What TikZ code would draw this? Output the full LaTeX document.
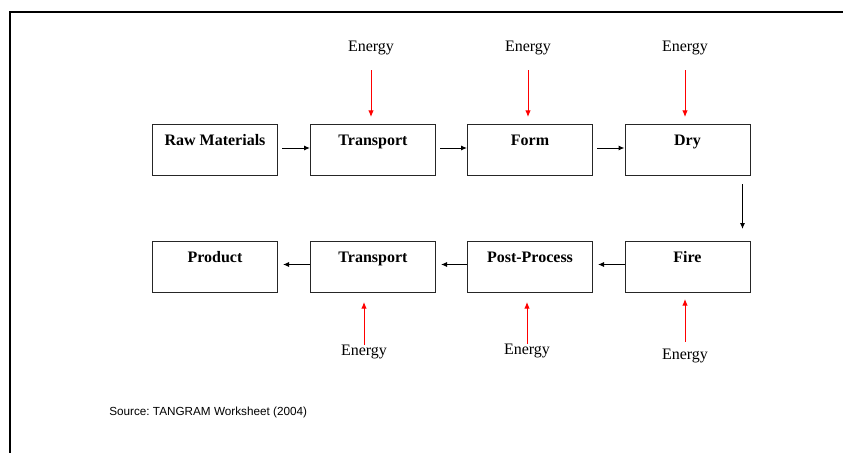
\documentclass[tikz,border=0pt]{standalone}
\usepackage{fontspec}
\setmainfont{Liberation Serif}
\newfontfamily\srcfont{Liberation Sans}
\usetikzlibrary{arrows.meta,calc}

\tikzset{
  stage/.style={draw=black!85, line width=0.75pt, font=\fontsize{12}{14}\selectfont\bfseries,
    inner sep=0pt, minimum width=93.75pt, text height=15.75pt, text depth=22.5pt},
  energytext/.style={inner sep=0.75pt, font=\fontsize{12}{14}\selectfont},
  flow/.style={-{Latex[length=4.5pt,width=3.8pt]}, line width=0.75pt},
  supply/.style={-{Latex[length=5pt,width=4.2pt]}, line width=0.75pt, red},
}

\begin{document}
\frenchspacing
\begin{tikzpicture}[x=0.75pt,y=0.75pt,yscale=-1,xscale=1]
\useasboundingbox (0,0) rectangle (843,453);

%Frame Lines
\draw [line width=1.5pt] (9.5,453) -- (9.5,12) -- (843,12);

% Stage Boxes, top row
\node [stage, anchor=north west] (raw) at (152,124) {Raw Materials};
\node [stage, anchor=north west] (transportA) at (310,124) {Transport};
\node [stage, anchor=north west] (form) at (467,124) {Form};
\node [stage, anchor=north west] (dry) at (624.5,124) {Dry};
% Stage Boxes, bottom row
\node [stage, anchor=north west] (product) at (152,241) {Product};
\node [stage, anchor=north west] (transportB) at (310,241) {Transport};
\node [stage, anchor=north west] (post) at (467,241) {Post-Process};
\node [stage, anchor=north west] (fire) at (624.5,241) {Fire};

%Flow Arrows
\draw [flow] ($(raw.east)+(4,-2)$) -- ($(transportA.west)+(0,-2)$);
\draw [flow] ($(transportA.east)+(4,-2)$) -- ($(form.west)+(0,-2)$);
\draw [flow] ($(form.east)+(4,-2)$) -- ($(dry.west)+(0,-2)$);
\draw [flow] ($(dry.south east)+(-8,8)$) -- ($(fire.north east)+(-8,-12)$);
\draw [flow] ($(fire.west)+(0,-2.5)$) -- ($(post.east)+(5,-2.5)$);
\draw [flow] ($(post.west)+(0,-2.5)$) -- ($(transportB.east)+(5,-2.5)$);
\draw [flow] ($(transportB.west)+(0,-2.5)$) -- ($(product.east)+(5,-2.5)$);

% Text Node
\node [energytext] (enA) at (371,48) {Energy};
\node [energytext] (enB) at (528,48) {Energy};
\node [energytext] (enC) at (685,48) {Energy};
\node [energytext] (enD) at (364,352) {Energy};
\node [energytext] (enE) at (527,351) {Energy};
\node [energytext] (enF) at (685,356) {Energy};

%Energy Arrows
\draw [supply] ($(enA.south)+(0,14)$) -- ($(enA |- transportA.north)+(0,-7)$);
\draw [supply] ($(enB.south)+(0,14)$) -- ($(enB |- form.north)+(0,-7)$);
\draw [supply] ($(enC.south)+(0,14)$) -- ($(enC |- dry.north)+(0,-7)$);
\draw [supply] ($(enD.north)+(0,1)$) -- ($(enD |- transportB.south)+(0,9)$);
\draw [supply] ($(enE.north)+(0,1)$) -- ($(enE |- post.south)+(0,9)$);
\draw [supply] ($(enF.north)+(0,-6)$) -- ($(enF |- fire.south)+(0,6)$);

% Text Node
\node [anchor=west, inner sep=0pt, font=\srcfont\fontsize{8.8}{10}\selectfont] (source) at (109,412) {Source: TANGRAM Worksheet (2004)};
\end{tikzpicture}
\end{document}
